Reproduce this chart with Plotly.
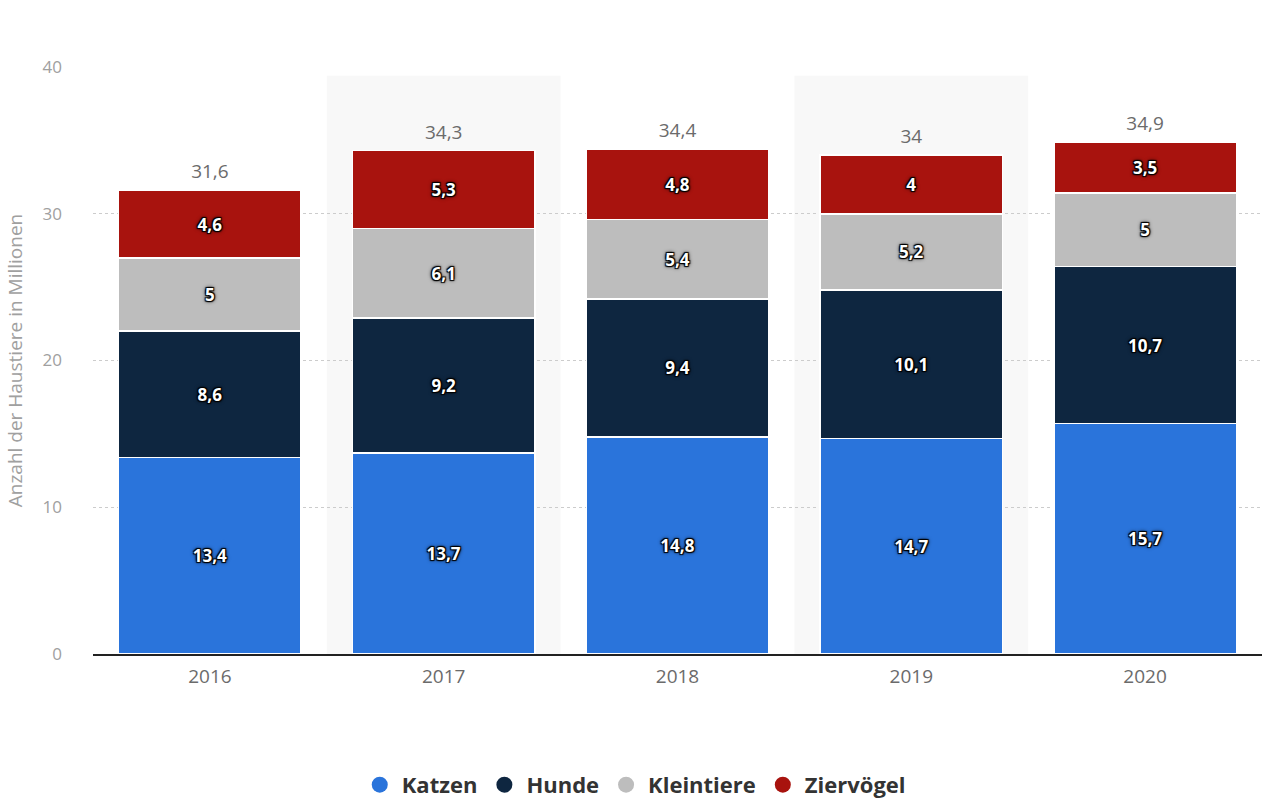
import plotly.graph_objects as go

years = ["2016", "2017", "2018", "2019", "2020"]
katzen = [13.4, 13.7, 14.8, 14.7, 15.7]
hunde = [8.6, 9.2, 9.4, 10.1, 10.7]
kleintiere = [5, 6.1, 5.4, 5.2, 5]
ziervoegel = [4.6, 5.3, 4.8, 4, 3.5]
totals = [31.6, 34.3, 34.4, 34, 34.9]

series = [
    ("Katzen", katzen, "#2a74db"),
    ("Hunde", hunde, "#0e2640"),
    ("Kleintiere", kleintiere, "#bdbdbd"),
    ("Ziervögel", ziervoegel, "#a8130e"),
]


def fmt(v):
    s = ("%g" % v)
    return s.replace(".", ",")


fig = go.Figure()
for name, vals, col in series:
    fig.add_trace(go.Bar(
        x=years, y=vals, name=name, showlegend=False,
        marker=dict(color=col, line=dict(color="white", width=1.5)),
        text=[fmt(v) for v in vals], textposition="inside",
        insidetextanchor="middle", textangle=0, constraintext="none",
        textfont=dict(family="Open Sans", size=17, color="white", weight="bold",
                      shadow="1px 1px 1px #000, -1px -1px 1px #000, 1px -1px 1px #000, -1px 1px 1px #000, 0px 0px 4px #000"),
        hoverinfo="skip",
    ))

fig.add_trace(go.Scatter(
    x=years, y=totals, mode="markers+text", text=[fmt(v) for v in totals],
    textposition="top center", showlegend=False, hoverinfo="skip",
    marker=dict(size=10, color="rgba(0,0,0,0)"),
    textfont=dict(family="Open Sans", size=19, color="#6b6b6b"),
))

for name, vals, col in series:
    fig.add_trace(go.Scatter(
        x=[None], y=[None], mode="markers", name=name,
        marker=dict(symbol="circle", size=22, color=col),
    ))

shapes = []
for i in (1, 3):
    shapes.append(dict(type="rect", xref="x", yref="y", x0=i - 0.5, x1=i + 0.5,
                       y0=0, y1=39.4, fillcolor="#f8f8f8", line=dict(width=0), layer="below"))

fig.update_layout(
    barmode="stack", bargap=0.22,
    width=1283, height=798,
    paper_bgcolor="white", plot_bgcolor="white",
    margin=dict(l=93, r=21, t=67, b=144, autoexpand=False),
    separators=",.",
    shapes=shapes,
    font=dict(family="Open Sans", color="#666666"),
    legend=dict(orientation="h", x=0.463, xanchor="center",
                y=-0.223, yanchor="middle", itemsizing="trace", traceorder="normal",
                font=dict(family="Open Sans", size=22, color="#333333", weight="bold"),
                itemwidth=34),
    xaxis=dict(showgrid=False, showline=True, linecolor="#222222", linewidth=1.5,
               ticks="", tickfont=dict(size=19, color="#6b6b6b"), automargin=False,
               ticklabelstandoff=4),
    yaxis=dict(range=[0, 40], dtick=10, showgrid=True, gridcolor="#cccccc",
               griddash="dot", gridwidth=1, zeroline=False, automargin=False,
               tickfont=dict(size=17, color="#a0a0a0"), ticklabelstandoff=30,
               title=dict(text="Anzahl der Haustiere in Millionen",
                          font=dict(size=19, color="#a0a0a0"), standoff=14)),
)

fig.write_html("out.html", post_script="document.body.style.margin='0px';",
               config={"displayModeBar": False})
